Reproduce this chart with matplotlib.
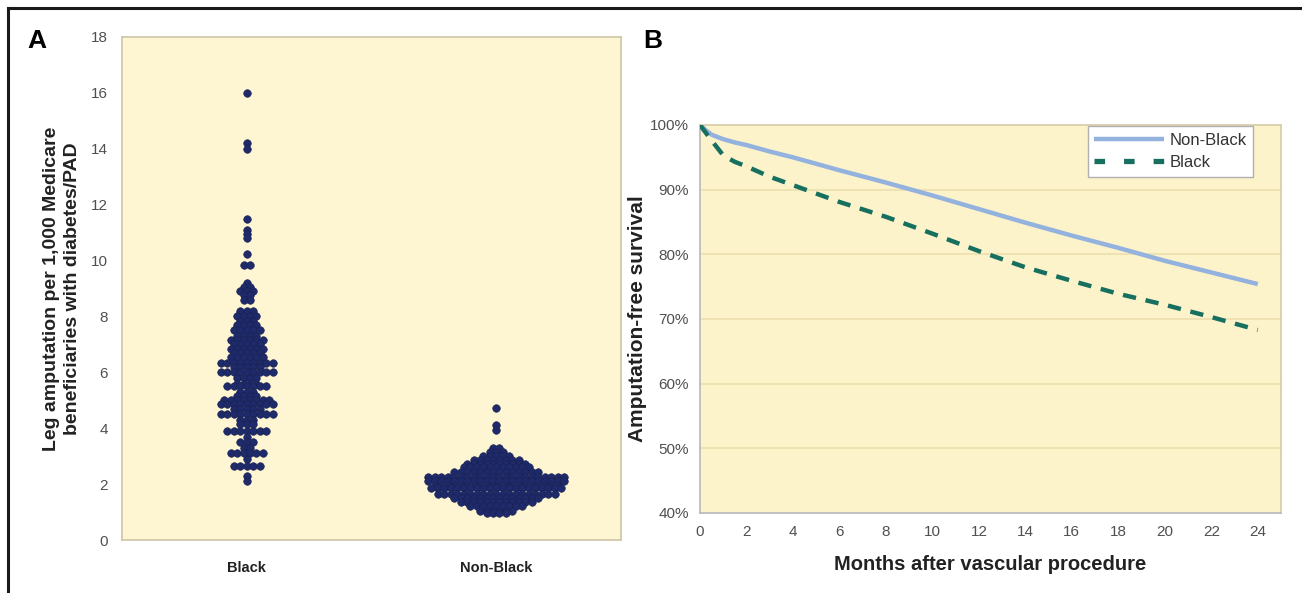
import numpy as np
import matplotlib.pyplot as plt
from matplotlib.lines import Line2D

plt.rcParams['font.family'] = ['Liberation Sans', 'DejaVu Sans']

# ---- panel A: amputation rate per region (rows of the dot plot) ----
groups = ['Black', 'Non-Black']
black_rows = [16.0, 14.2, 14.0, 11.5, 11.1, 10.95, 10.8, 10.25, 9.85, 9.2,
              9.05, 8.9, 8.75, 8.6, 8.2, 8.0, 7.85, 7.7, 7.5, 7.3,
              7.15, 7.0, 6.85, 6.7, 6.55, 6.35, 6.2, 6.0, 5.8, 5.6,
              5.5, 5.3, 5.15, 5.0, 4.85, 4.7, 4.5, 4.3, 4.15, 3.9,
              3.7, 3.5, 3.3, 3.1, 2.9, 2.65, 2.3, 2.1]
black_counts = [1, 1, 1, 1, 1, 1, 1, 1, 2, 1,
                2, 3, 2, 2, 3, 4, 3, 4, 5, 4,
                6, 5, 6, 5, 6, 9, 5, 9, 4, 4,
                7, 3, 4, 8, 9, 5, 9, 3, 3, 7,
                1, 3, 2, 6, 1, 5, 1, 1]
nonblack_rows = [4.72, 4.12, 3.92, 3.3, 3.15, 3.0, 2.87, 2.72, 2.6, 2.45,
                 2.25, 2.1, 1.95, 1.85, 1.65, 1.5, 1.37, 1.2, 1.05, 0.96]
nonblack_counts = [1, 1, 1, 2, 3, 5, 8, 10, 11, 14,
                   22, 22, 20, 21, 19, 14, 12, 9, 6, 4]

# ---- panel B: amputation-free survival ----
months = [0, 0.25, 0.5, 1, 1.5, 2, 3, 4, 6, 8, 10, 12, 14, 16, 18, 20, 22, 24]
surv_nonblack = [100, 99.2, 98.5, 97.8, 97.3, 96.9, 95.9, 95.0, 93.0, 91.1,
                 89.1, 87.0, 84.9, 82.9, 81.0, 79.0, 77.2, 75.4]
surv_black = [100, 98.8, 97.6, 95.3, 94.3, 93.6, 92.0, 90.7, 88.1, 85.8,
              83.2, 80.5, 78.0, 75.9, 73.9, 72.2, 70.3, 68.3]

W, H = 1302, 593
fig = plt.figure(figsize=(W / 100, H / 100), dpi=100)

# cropped frame (top and left edges only)
fig.add_artist(Line2D([8 / W, 1], [1 - 8 / H, 1 - 8 / H], color='#1a1a1a', lw=2.2,
                      transform=fig.transFigure))
fig.add_artist(Line2D([8 / W, 8 / W], [0, 1 - 8 / H], color='#1a1a1a', lw=2.2,
                      transform=fig.transFigure))

tick_col = '#505050'
dot_col = '#1f2a6b'
nb_col = '#93b2de'
bl_col = '#17705f'

# ---------------- panel A ----------------
axA = fig.add_axes([122 / W, 1 - 540 / H, (621 - 122) / W, (540 - 37) / H])
axA.set_facecolor('#fef5d2')
for s in axA.spines.values():
    s.set_color('#cdc5a5')
    s.set_linewidth(1.2)

dx = 0.026
for gi, (rows, counts) in enumerate([(black_rows, black_counts),
                                     (nonblack_rows, nonblack_counts)]):
    for y, n in zip(rows, counts):
        xs = gi + (np.arange(n) - (n - 1) / 2) * dx
        axA.scatter(xs, np.full(n, y), s=30, color=dot_col,
                    edgecolor='#18204f', linewidth=0.4, zorder=3)

axA.set_xlim(-0.5, 1.5)
axA.set_ylim(0, 18)
axA.set_yticks(range(0, 19, 2))
axA.set_xticks([0, 1])
axA.set_xticklabels(groups, fontsize=10.5, fontweight='bold', color='#222222')
axA.tick_params(axis='y', length=0, pad=10, labelsize=11, labelcolor=tick_col)
axA.tick_params(axis='x', length=0, pad=15)
axA.set_ylabel('Leg amputation per 1,000 Medicare\nbeneficiaries with diabetes/PAD',
               fontsize=14, fontweight='bold', color='#222222', labelpad=7,
               linespacing=1.3)
fig.text(27 / W, 1 - 41 / H, 'A', fontsize=19, fontweight='bold', va='center',
         ha='left')

# ---------------- panel B ----------------
axB = fig.add_axes([700 / W, 1 - 513 / H, 581 / W, 388 / H])
axB.set_facecolor('#fdf3cb')
for s in axB.spines.values():
    s.set_color('#d4cba8')
    s.set_linewidth(1.2)
axB.spines['left'].set_color('#b8b8b8')
axB.spines['bottom'].set_color('#b8b8b8')

for g in range(50, 100, 10):
    axB.axhline(g, color='#ebdfae', lw=1.2, zorder=1)

axB.plot(months, surv_nonblack, color=nb_col, lw=3.2,
         solid_capstyle='butt', zorder=3)
axB.plot(months, surv_black, color=bl_col, lw=3.2,
         dashes=(3.0, 2.2), zorder=3)

axB.set_xlim(0, 25)
axB.set_ylim(40, 100)
axB.set_xticks(range(0, 25, 2))
axB.set_yticks(range(40, 101, 10))
axB.set_yticklabels(['%d%%' % v for v in range(40, 101, 10)])
axB.tick_params(axis='both', length=0, labelsize=11, labelcolor=tick_col)
axB.tick_params(axis='y', pad=8)
axB.tick_params(axis='x', pad=9)
axB.set_xlabel('Months after vascular procedure', fontsize=14.5,
               fontweight='bold', color='#222222', labelpad=11)
axB.set_ylabel('Amputation-free survival', fontsize=15, fontweight='bold',
               color='#222222', labelpad=2)

handles = [Line2D([], [], color=nb_col, lw=3.2, solid_capstyle='butt'),
           Line2D([], [], color=bl_col, lw=3.8, dashes=(2.0, 3.6))]
leg = axB.legend(handles, ['Non-Black', 'Black'], loc='upper right',
                 bbox_to_anchor=(0.952, 0.997),
                 borderaxespad=0, fontsize=12, handlelength=4.2,
                 handletextpad=0.3, fancybox=False, framealpha=1,
                 edgecolor='#b0b0b0', borderpad=0.4, labelspacing=0.45)
leg.get_frame().set_linewidth(1.0)
for t in leg.get_texts():
    t.set_color('#333333')

fig.text(643 / W, 1 - 41 / H, 'B', fontsize=19, fontweight='bold', va='center',
         ha='left')

fig.savefig('out.png', dpi=100, facecolor='white')
